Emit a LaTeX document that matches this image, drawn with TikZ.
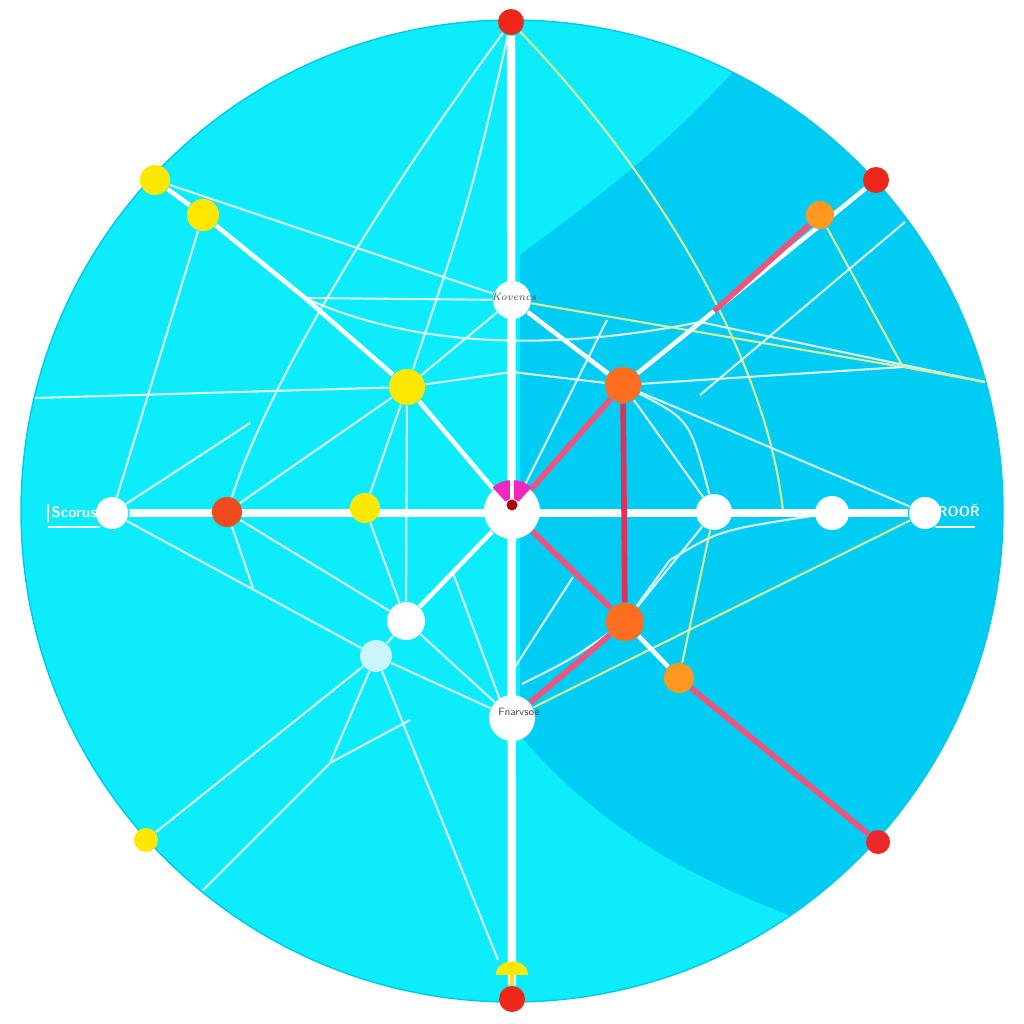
\documentclass[tikz,border=0pt]{standalone}
\usetikzlibrary{calc}
\definecolor{skyfill}{RGB}{12,236,250}
\definecolor{deepfill}{RGB}{0,204,244}
\definecolor{rimline}{RGB}{0,200,232}
\definecolor{yel}{RGB}{255,232,0}
\definecolor{redd}{RGB}{238,40,24}
\definecolor{redo}{RGB}{240,74,30}
\definecolor{oran}{RGB}{255,110,30}
\definecolor{lorange}{RGB}{255,152,30}
\definecolor{pinkline}{RGB}{240,84,124}
\definecolor{dpink}{RGB}{222,48,90}
\definecolor{limeline}{RGB}{214,242,150}
\definecolor{magen}{RGB}{240,40,190}
\definecolor{pale}{RGB}{200,246,250}
\pgfdeclarelayer{fills}
\pgfdeclarelayer{lines}
\pgfsetlayers{fills,lines,main}
\begin{document}
\begin{tikzpicture}[x=0.01cm,y=-0.01cm,
  dot/.style={circle,inner sep=0pt,minimum size=#1},
  wdot/.style={dot=#1,fill=white},
  ydot/.style={dot=#1,fill=yel},
  rdot/.style={dot=#1,fill=redd},
  odot/.style={dot=#1,fill=oran},
  lodot/.style={dot=#1,fill=lorange},
  tag/.style={font=\fontsize{3}{3}\selectfont\itshape,text=black!70},
  axis/.style={white,line width=2.4pt},
  bwire/.style={white,line width=1.3pt},
  fine/.style={white!85!cyan,line width=0.6pt},
  gwire/.style={limeline,line width=0.6pt},
  pwire/.style={pinkline,line width=1.6pt}]
\useasboundingbox (0,0) rectangle (1024,1024);
\begin{pgfonlayer}{fills}
\fill[white] (0,0) rectangle (1024,1024);
\fill[skyfill] (512,511) circle (491);
\begin{scope}
\clip (512,511) circle (491);
\fill[deepfill] (760,40) .. controls (680,140) and (580,210) .. (520,255) -- (520,735)
  .. controls (600,830) and (700,885) .. (830,930) -- (1100,1100) -- (1100,0) -- cycle;
\end{scope}
\draw[rimline,line width=0.4pt] (512,511) circle (491);
\end{pgfonlayer}

\node[rdot=0.26cm] (top) at (511,22) {};
\node[rdot=0.26cm] (bot) at (512,999) {};
\node[wdot=0.56cm] (hub) at (512,511) {};
\node[wdot=0.38cm] (kov) at (512,300) {};
\node[tag] at (514,297) {Kovencs};
\node[wdot=0.46cm] (fnar) at (512,718) {};
\node[tag,font=\fontsize{3}{3}\selectfont\sffamily] at (519,712) {Fnarvsoe};
\node[wdot=0.32cm] (scor) at (112,513) {};
\node[dot=0.30cm,fill=redo] (lred) at (227,512) {};
\node[ydot=0.30cm] (ly1) at (365,508) {};
\node[ydot=0.36cm] (ly2) at (407,387) {};
\node[ydot=0.30cm] (ty1) at (155,180) {};
\node[ydot=0.32cm] (ty2) at (203,215) {};
\node[wdot=0.38cm] (lw1) at (406,621) {};
\node[dot=0.32cm,fill=pale] (lw2) at (376,656) {};
\node[odot=0.36cm] (o1) at (623,385) {};
\node[odot=0.38cm] (o2) at (625,622) {};
\node[lodot=0.28cm] (o3) at (820,215) {};
\node[rdot=0.26cm] (rtr) at (876,180) {};
\node[lodot=0.30cm] (o4) at (679,678) {};
\node[dot=0.24cm,fill=redd!90!magen] (rbr) at (878,842) {};
\node[ydot=0.24cm] (by) at (146,840) {};
\node[wdot=0.36cm] (rw1) at (714,512) {};
\node[wdot=0.34cm] (rw2) at (832,513) {};
\node[wdot=0.32cm] (rw3) at (925,513) {};

\coordinate (j1) at (305,298);
\coordinate (j2) at (903,367);
\coordinate (j3) at (670,560);
\coordinate (j4) at (250,423);
\coordinate (j5) at (330,763);
\coordinate (e1) at (985,382);
\coordinate (e2) at (35,398);
\coordinate (e3) at (905,222);
\coordinate (e4) at (700,395);
\coordinate (e5) at (203,890);
\coordinate (m1) at (512,372);
\coordinate (gfoot) at (783,512);

\begin{pgfonlayer}{lines}
\draw[fine] (top) .. controls (380,200) and (270,380) .. (lred);
\draw[fine] (top) .. controls (470,200) .. (ly2);
\draw[gwire] (top) .. controls (680,200) and (770,380) .. (gfoot);
\draw[fine] (ty1) -- (kov);
\draw[fine] (ty2) -- (scor);
\draw[fine] (j1) -- (kov);
\draw[fine] (j1) .. controls (420,350) and (560,350) .. (700,322) -- (e1);
\draw[fine] (e2) -- (ly2) -- (m1) -- (o1);
\draw[gwire] (kov) -- (j2) -- (e1);
\draw[gwire] (o3) -- (j2);
\draw[fine] (o1) -- (j2);
\draw[fine] (e3) -- (e4);
\draw[fine] (607,320) -- (hub);
\draw[fine] (o1) -- (rw1);
\draw[fine] (o1) .. controls (690,420) .. (rw1);
\draw[fine] (o1) -- (rw3);
\draw[fine] (o2) -- (rw1);
\draw[fine] (rw2) .. controls (720,530) .. (j3) -- (o2);
\draw[fine] (522,684) .. controls (570,660) .. (o2);
\draw[fine] (573,577) -- (513,670);
\draw[gwire] (rw1) -- (o4);
\draw[gwire] (rw3) -- (fnar);
\draw[fine] (lw1) -- (lw2);
\draw[fine] (ly1) -- (lw1);
\draw[fine] (ly2) -- (lw1);
\draw[fine] (ly2) -- (ly1);
\draw[fine] (ly2) -- (lred);
\draw[fine] (ly2) -- (kov);
\draw[fine] (scor) -- (j4);
\draw[fine] (lred) -- (lw1);
\draw[fine] (lred) -- (253,588);
\draw[fine] (scor) -- (lw2);
\draw[fine] (lw1) -- (fnar);
\draw[fine] (lw2) -- (fnar);
\draw[fine] (lw2) -- (by);
\draw[fine] (lw2) -- (j5) -- (e5);
\draw[fine] (j5) -- (410,720);
\draw[fine] (lw2) -- (498,960);
\draw[fine] (453,573) -- (500,700);
\draw[axis] (top) -- (bot);
\draw[axis] (scor) -- (rw3);
\draw[bwire] (ty1) -- (ty2) -- (j1) -- (ly2) -- (hub);
\draw[bwire] (hub) -- (lw1);
\draw[bwire] (kov) -- (o1);
\draw[bwire] (o1) -- (rtr);
\draw[pwire] ($(o1)!0.36!(rtr)$) -- (o3);
\draw[pwire] (o1) -- (hub);
\draw[pwire,dpink] (o1) -- (o2);
\draw[pwire] (hub) -- (o2);
\draw[bwire] (o2) -- (o4);
\draw[pwire] (o4) -- (rbr);
\draw[pwire] (o2) -- (fnar);
\draw[yel,line width=1pt] (512,974) -- (bot);
\fill[yel] (496,975) .. controls (496,957) and (528,957) .. (528,975) -- cycle;
\end{pgfonlayer}

\fill[magen] ([shift={(228:10)}]512,509) arc (228:312:10) -- ([shift={(312:29)}]512,509) arc (312:228:29) -- cycle;
\draw[white,line width=1pt] (512,478) -- (512,500);
\fill[red!70!black] (512,505) circle (5.5);

\node[font=\fontsize{4.3}{5}\selectfont\sffamily\bfseries,text=white,anchor=west,inner sep=0pt] (scorlab) at (51,512) {Scorusa};
\draw[white,line width=0.5pt] (48,504) -- (48,522) (48,527) -- (100,527);
\node[font=\fontsize{4}{5}\selectfont\sffamily\bfseries,text=white,anchor=west,inner sep=0pt] (roorlab) at (937,511) {ROOŘ};
\draw[white,line width=0.5pt] (935,527) -- (975,527);
\end{tikzpicture}
\end{document}
